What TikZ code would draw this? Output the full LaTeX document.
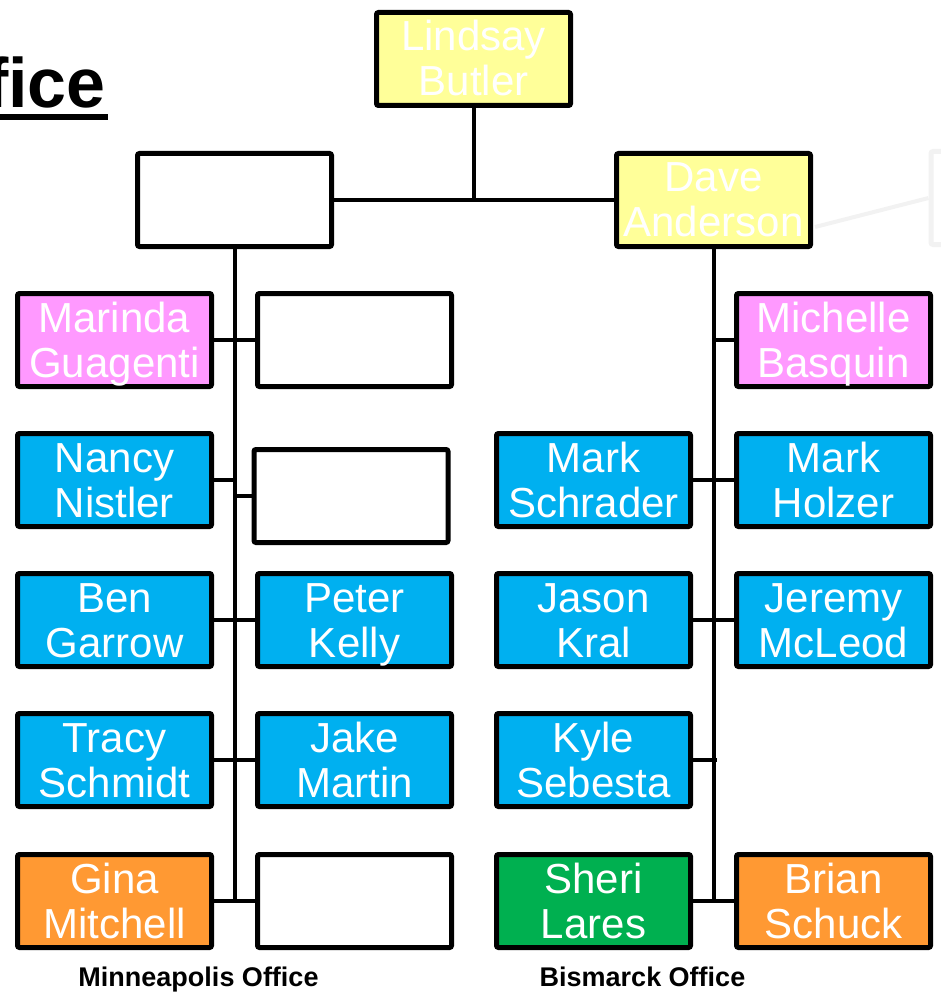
\documentclass[tikz,border=0pt]{standalone}
\usepackage{fontspec}
\setmainfont{Liberation Sans}
\definecolor{cyel}{RGB}{255,255,153}
\definecolor{cpink}{RGB}{255,153,255}
\definecolor{cblue}{RGB}{0,176,240}
\definecolor{corange}{RGB}{255,153,51}
\definecolor{cgreen}{RGB}{0,176,80}
\definecolor{cghost}{RGB}{242,242,242}
\newcommand\twol[2]{\begin{tabular}[t]{@{}c@{}}#1\\#2\end{tabular}}
\begin{document}
\begin{tikzpicture}[x=1pt,y=-1pt,
  pbox/.style={draw=black, line width=5pt, rounded corners=2pt,
    minimum width=194pt, minimum height=93pt, inner sep=0pt,
    text height=31pt, text depth=47pt,
    align=center, text=white, font=\fontsize{42}{45}\selectfont},
  ebox/.style={draw=black, line width=5pt, rounded corners=2pt,
    minimum width=194pt, minimum height=93pt, inner sep=0pt},
  conn/.style={draw=black, line width=4pt},
  lbl/.style={font=\bfseries\fontsize{27}{27}\selectfont, inner sep=0pt, anchor=base}]
\useasboundingbox (0,0) rectangle (940,992);

% ghost box and faint connector
\node[ebox, draw=cghost, fill=white] (gh) at (1028,198) {};
\coordinate (gs) at (815,227);
\draw[line width=4pt, cghost] (gs) -- (gh.west);

% title fragment
\node[anchor=base east, inner sep=0pt, font=\bfseries\fontsize{70}{70}\selectfont] (title) at (106,108) {fice};
\coordinate (ul1) at (0,117);
\coordinate (ul2) at (108,117);
\draw[line width=6pt] (ul1) -- (ul2);

% top level
\node[pbox, fill=cyel] (lb) at (473.5,59) {\twol{Lindsay}{Butler}};
\node[ebox, fill=white] (tl) at (234.5,200) {};
\node[pbox, fill=cyel] (da) at (713.5,200) {\twol{Dave}{Anderson}};

% Minneapolis
\node[pbox, fill=cpink] (mg) at (114.5,340) {\twol{Marinda}{Guagenti}};
\node[ebox, fill=white] (e1) at (354.5,340) {};
\node[pbox, fill=cblue] (nn) at (114.5,480) {\twol{Nancy}{Nistler}};
\node[ebox, fill=white] (e2) at (351,496) {};
\node[pbox, fill=cblue] (bg) at (114.5,620) {\twol{Ben}{Garrow}};
\node[pbox, fill=cblue] (pk) at (354.5,620) {\twol{Peter}{Kelly}};
\node[pbox, fill=cblue] (ts) at (114.5,760) {\twol{Tracy}{Schmidt}};
\node[pbox, fill=cblue] (jm) at (354.5,760) {\twol{Jake}{Martin}};
\node[pbox, fill=corange] (gm) at (114.5,901) {\twol{Gina}{Mitchell}};
\node[ebox, fill=white] (e3) at (354.5,901) {};

% Bismarck
\node[pbox, fill=cpink] (mb) at (833.5,340) {\twol{Michelle}{Basquin}};
\node[pbox, fill=cblue] (ms) at (593.5,480) {\twol{Mark}{Schrader}};
\node[pbox, fill=cblue] (mh) at (833.5,480) {\twol{Mark}{Holzer}};
\node[pbox, fill=cblue] (jk) at (593.5,620) {\twol{Jason}{Kral}};
\node[pbox, fill=cblue] (jy) at (833.5,620) {\twol{Jeremy}{McLeod}};
\node[pbox, fill=cblue] (ks) at (593.5,760) {\twol{Kyle}{Sebesta}};
\node[pbox, fill=cgreen] (sl) at (593.5,901) {\twol{Sheri}{Lares}};
\node[pbox, fill=corange] (bs) at (833.5,901) {\twol{Brian}{Schuck}};

% labels
\node[lbl] (mo) at (198.5,986) {Minneapolis Office};
\node[lbl] (bo) at (642.5,986) {Bismarck Office};

% connectors
\draw[conn] (lb.south) -- (lb.south |- tl.east);
\draw[conn] (tl.east) -- (da.west);
\draw[conn] (tl.south) -- (tl.south |- gm.east);
\draw[conn] (da.south) -- (da.south |- sl.east);
\draw[conn] (mg.east) -- (e1.west);
\draw[conn] (nn.east) -- (nn.east -| tl.south);
\draw[conn] (e2.west -| tl.south) -- (e2.west);
\draw[conn] (bg.east) -- (pk.west);
\draw[conn] (ts.east) -- (jm.west);
\draw[conn] (gm.east) -- (e3.west);
\draw[conn] (da.south |- mb.west) -- (mb.west);
\draw[conn] (ms.east) -- (mh.west);
\draw[conn] (jk.east) -- (jy.west);
\draw[conn] (ks.east) -- ++(24,0);
\draw[conn] (sl.east) -- (bs.west);
\end{tikzpicture}
\end{document}
